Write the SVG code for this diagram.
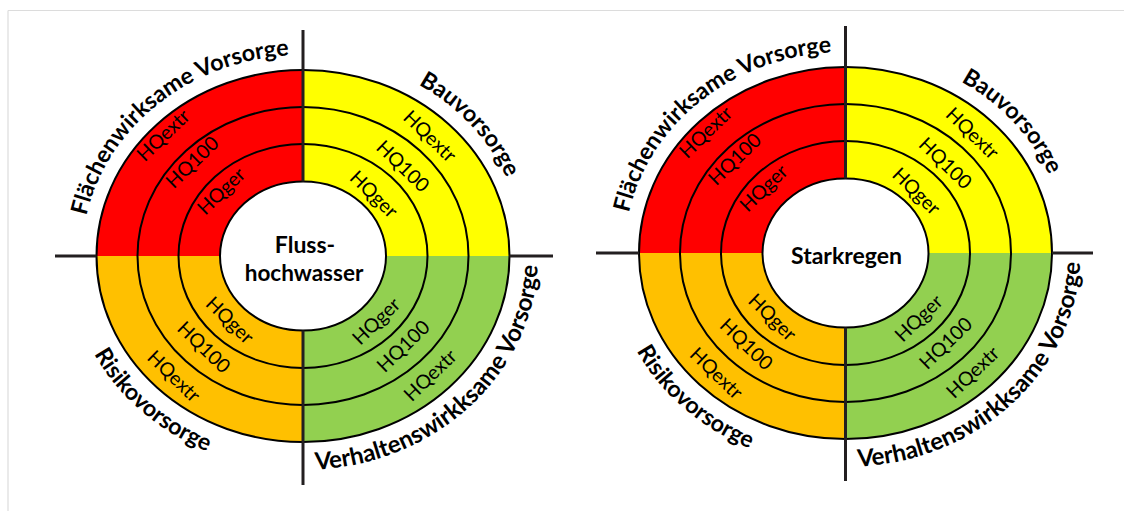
<svg xmlns="http://www.w3.org/2000/svg" xmlns:xlink="http://www.w3.org/1999/xlink" width="1124" height="511" viewBox="0 0 1124 511">
<style>
.red{fill:#FF0000}.yel{fill:#FFFF00}.org{fill:#FFC000}.grn{fill:#92D050}
.ring{fill:none;stroke:#000;stroke-width:2}
.hole{fill:#fff;stroke:#000;stroke-width:2}
.axis{stroke:#231f20;stroke-width:3;fill:none}
.frame{stroke:#dcdcdc;stroke-width:1.2;fill:none}
.hq{font-family:Lato,"Liberation Sans",sans-serif;font-size:19.5px;fill:#000;text-anchor:middle}
.lbl{font-family:Lato,"Liberation Sans",sans-serif;font-size:23.2px;font-weight:bold;fill:#000;text-anchor:middle}
.lbl2{font-size:24px}
.ctr{font-family:Lato,"Liberation Sans",sans-serif;font-size:23px;font-weight:bold;fill:#000;text-anchor:middle}
.ctr2{font-size:22.5px}
</style>
<defs>
<path id="topArc" d="M -221,0 A 221,201 0 0 1 221,0"/>
<path id="botArc" d="M -235,0 A 235,214 0 0 0 235,0"/>
</defs>
<rect width="1124" height="511" fill="#fff"/>
<g id="frame">
<line class="frame" x1="8" y1="10.5" x2="1124" y2="10.5"/>
<line class="frame" x1="8" y1="10.5" x2="8" y2="511"/>
</g>

<g id="fluss" transform="translate(303,256)">
<path class="red" d="M0,0 L-206.5,0 A206.5,186 0 0 1 0,-186 Z"/>
<path class="yel" d="M0,0 L0,-186 A206.5,186 0 0 1 206.5,0 Z"/>
<path class="grn" d="M0,0 L206.5,0 A206.5,186 0 0 1 0,186 Z"/>
<path class="org" d="M0,0 L0,186 A206.5,186 0 0 1 -206.5,0 Z"/>
<ellipse class="ring" rx="206.5" ry="186"/>
<ellipse class="ring" rx="165.5" ry="149"/>
<ellipse class="ring" rx="124.5" ry="112"/>
<ellipse class="hole" rx="83" ry="74.5"/>
<g id="fluss-axes">
<line class="axis" x1="0" y1="-226" x2="0" y2="-74.5"/>
<line class="axis" x1="0" y1="74.5" x2="0" y2="229"/>
<line class="axis" x1="-248" y1="0" x2="-206.5" y2="0"/>
<line class="axis" x1="206.5" y1="0" x2="250" y2="0"/>
</g>
<text class="hq" dy=".36em" transform="translate(-140,-121) rotate(-44)">HQextr</text>
<text class="hq" dy=".36em" transform="translate(-111,-94) rotate(-44)">HQ100</text>
<text class="hq" dy=".36em" transform="translate(-82,-65) rotate(-44)">HQger</text>
<text class="hq" dy=".36em" transform="translate(127,-120) rotate(44)">HQextr</text>
<text class="hq" dy=".36em" transform="translate(100,-90) rotate(44)">HQ100</text>
<text class="hq" dy=".36em" transform="translate(71,-62) rotate(44)">HQger</text>
<text class="hq" dy=".36em" transform="translate(-129,120) rotate(44)">HQextr</text>
<text class="hq" dy=".36em" transform="translate(-99,91) rotate(44)">HQ100</text>
<text class="hq" dy=".36em" transform="translate(-73,64) rotate(44)">HQger</text>
<text class="hq" dy=".36em" transform="translate(127,119) rotate(-44)">HQextr</text>
<text class="hq" dy=".36em" transform="translate(100,90) rotate(-44)">HQ100</text>
<text class="hq" dy=".36em" transform="translate(73,65) rotate(-44)">HQger</text>
<text class="lbl"><textPath href="#topArc" xlink:href="#topArc" startOffset="27%">Flächenwirksame Vorsorge</textPath></text>
<text class="lbl"><textPath href="#topArc" xlink:href="#topArc" startOffset="78%">Bauvorsorge</textPath></text>
<text class="lbl"><textPath href="#botArc" xlink:href="#botArc" startOffset="25.3%">Risikovorsorge</textPath></text>
<text class="lbl lbl2"><textPath href="#botArc" xlink:href="#botArc" startOffset="75.2%">Verhaltenswirkksame Vorsorge</textPath></text>
<text class="ctr" x="2" y="-3">Fluss-</text>
<text class="ctr ctr2" x="1" y="25">hochwasser</text>
</g>

<g id="starkregen" transform="translate(845.5,253)">
<path class="red" d="M0,0 L-206.5,0 A206.5,186 0 0 1 0,-186 Z"/>
<path class="yel" d="M0,0 L0,-186 A206.5,186 0 0 1 206.5,0 Z"/>
<path class="grn" d="M0,0 L206.5,0 A206.5,186 0 0 1 0,186 Z"/>
<path class="org" d="M0,0 L0,186 A206.5,186 0 0 1 -206.5,0 Z"/>
<ellipse class="ring" rx="206.5" ry="186"/>
<ellipse class="ring" rx="165.5" ry="149"/>
<ellipse class="ring" rx="124.5" ry="112"/>
<ellipse class="hole" rx="83" ry="74.5"/>
<g id="starkregen-axes">
<line class="axis" x1="0" y1="-227" x2="0" y2="-74.5"/>
<line class="axis" x1="0" y1="74.5" x2="0" y2="228"/>
<line class="axis" x1="-249.5" y1="0" x2="-206.5" y2="0"/>
<line class="axis" x1="206.5" y1="0" x2="247.5" y2="0"/>
</g>
<text class="hq" dy=".36em" transform="translate(-140,-121) rotate(-44)">HQextr</text>
<text class="hq" dy=".36em" transform="translate(-111,-94) rotate(-44)">HQ100</text>
<text class="hq" dy=".36em" transform="translate(-82,-65) rotate(-44)">HQger</text>
<text class="hq" dy=".36em" transform="translate(127,-120) rotate(44)">HQextr</text>
<text class="hq" dy=".36em" transform="translate(100,-90) rotate(44)">HQ100</text>
<text class="hq" dy=".36em" transform="translate(71,-62) rotate(44)">HQger</text>
<text class="hq" dy=".36em" transform="translate(-129,120) rotate(44)">HQextr</text>
<text class="hq" dy=".36em" transform="translate(-99,91) rotate(44)">HQ100</text>
<text class="hq" dy=".36em" transform="translate(-73,64) rotate(44)">HQger</text>
<text class="hq" dy=".36em" transform="translate(127,119) rotate(-44)">HQextr</text>
<text class="hq" dy=".36em" transform="translate(100,90) rotate(-44)">HQ100</text>
<text class="hq" dy=".36em" transform="translate(73,65) rotate(-44)">HQger</text>
<text class="lbl"><textPath href="#topArc" xlink:href="#topArc" startOffset="27%">Flächenwirksame Vorsorge</textPath></text>
<text class="lbl"><textPath href="#topArc" xlink:href="#topArc" startOffset="78%">Bauvorsorge</textPath></text>
<text class="lbl"><textPath href="#botArc" xlink:href="#botArc" startOffset="25.3%">Risikovorsorge</textPath></text>
<text class="lbl lbl2"><textPath href="#botArc" xlink:href="#botArc" startOffset="75.2%">Verhaltenswirkksame Vorsorge</textPath></text>
<text class="ctr" x="1" y="11">Starkregen</text>
</g>
</svg>
